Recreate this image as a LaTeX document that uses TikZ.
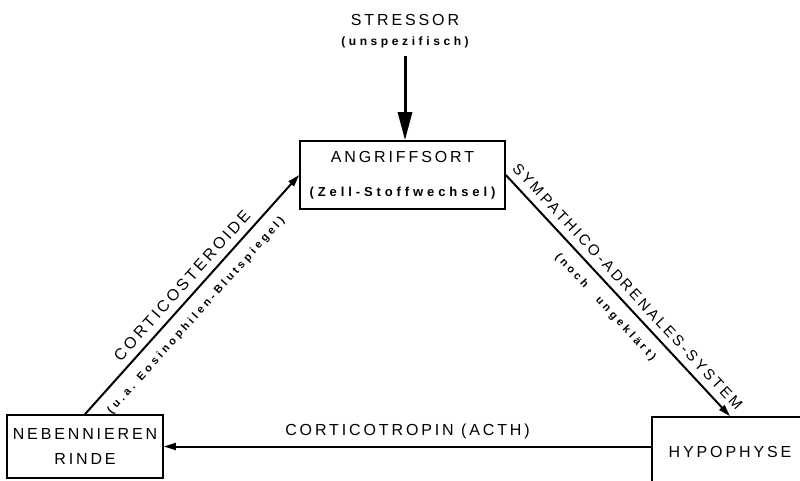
\documentclass[tikz,border=0pt]{standalone}
\usepackage{fontspec}
\setmainfont{Liberation Sans}
\newfontfamily\capsfont[LetterSpace=18]{Liberation Sans}
\newfontfamily\notefont[LetterSpace=30]{Liberation Sans}
\usetikzlibrary{arrows.meta,positioning,calc}
\newcommand\capsize[1]{\capsfont\fontsize{#1}{18}\selectfont}
\newcommand\notesize[1]{\notefont\bfseries\fontsize{#1}{14}\selectfont}

\tikzset{
  block/.style={draw,line width=1.6pt,inner sep=0pt,align=center,font={\capsize{16}}},
  flow/.style={line width=2pt,-{Triangle[length=12pt,width=7pt]}},
  caption/.style={font={\capsize{16}},inner sep=7pt},
  note/.style={font={\notesize{12}},inner sep=11pt}
}

\begin{document}
\begin{tikzpicture}[x=1pt,y=1pt]
  \useasboundingbox (0,0) rectangle (800,480);

  % boxes
  \node[block,minimum width=205pt,minimum height=68pt] (angriff) at (402.5,305)
      {ANGRIFFSORT\\[16pt]{\notesize{13}(Zell-Stoffwechsel)}};
  \node[block,minimum width=156pt,minimum height=63pt] (neben) at (85,33.5)
      {NEBENNIEREN\\[7pt]RINDE};
  \node[block,minimum width=156pt,minimum height=70pt] (hypo) at (730,28)
      {HYPOPHYSE};

  % stressor on top
  \node[align=center] (stressor) at (405,449)
      {{\capsize{16}STRESSOR}\\[8pt]{\notesize{12}(unspezifisch)}};
  \draw[line width=3pt,-{Triangle[length=28pt,width=14pt]},shorten <=5pt]
      (stressor.south) -- (stressor.south |- angriff.north);

  % feedback loop
  \draw[flow] (neben.north) -- (angriff.west)
      node[caption,sloped,midway,above] {CORTICOSTEROIDE}
      node[note,sloped,pos=0.46,below,font={\notesize{11}}] {(u.a. Eosinophilen-Blutspiegel)};
  \draw[flow] (angriff.east) -- (hypo.north)
      node[caption,sloped,midway,above,font={\capsize{15}}] {SYMPATHICO-ADRENALES-SYSTEM}
      node[note,sloped,midway,below,font={\notesize{11}}] {(noch\hspace{10pt} ungeklärt)};
  \draw[flow] (neben.east -| hypo.west) -- (neben.east)
      node[caption,midway,above] {CORTICOTROPIN (ACTH)};
\end{tikzpicture}
\end{document}
